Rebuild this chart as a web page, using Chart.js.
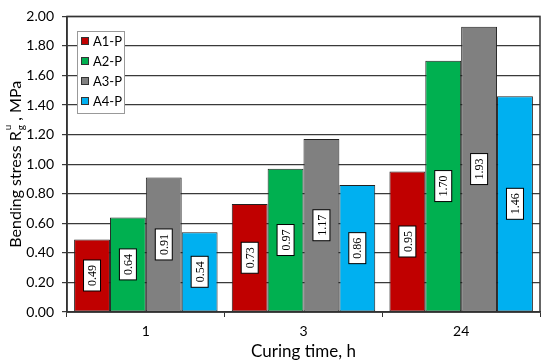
<!DOCTYPE html>
<html>
<head>
<meta charset="utf-8">
<script src="https://cdn.jsdelivr.net/npm/chart.js@4"></script>
<style>
  html, body { margin: 0; padding: 0; background: #fff; }
  #wrap { width: 550px; height: 362px; }
</style>
</head>
<body>
<div id="wrap"><canvas id="chart"></canvas></div>
<script>
const categories = ['1', '3', '24'];
const seriesNames = ['A1-P', 'A2-P', 'A3-P', 'A4-P'];
const a1p = [0.49, 0.73, 0.95];
const a2p = [0.64, 0.97, 1.70];
const a3p = [0.91, 1.17, 1.93];
const a4p = [0.54, 0.86, 1.46];
const colours = ['#C00000', '#00B050', '#808080', '#00B0F0'];

const seriesValues = [a1p, a2p, a3p, a4p];
const sansFont = 'Lato, "Open Sans", sans-serif';

// value boxes, rotated, in the middle of each bar
const barLabels = {
  id: 'barLabels',
  afterDatasetsDraw(chart) {
    const ctx = chart.ctx;
    ctx.save();
    ctx.font = '12px "Liberation Serif", "Times New Roman", serif';
    ctx.textAlign = 'center';
    ctx.textBaseline = 'middle';
    chart.data.datasets.forEach(function (ds, i) {
      const meta = chart.getDatasetMeta(i);
      meta.data.forEach(function (bar, j) {
        const txt = ds.data[j].toFixed(2);
        const cy = (bar.y + bar.base) / 2;
        const w = ctx.measureText(txt).width + 10;
        const h = 17;
        ctx.save();
        ctx.translate(bar.x, cy);
        ctx.rotate(-Math.PI / 2);
        ctx.fillStyle = '#fff';
        ctx.fillRect(-w / 2, -h / 2, w, h);
        ctx.strokeStyle = '#000';
        ctx.lineWidth = 1;
        ctx.strokeRect(-w / 2, -h / 2, w, h);
        ctx.fillStyle = '#000';
        ctx.fillText(txt, 0, 1);
        ctx.restore();
      });
    });
    ctx.restore();
  }
};

// plot frame, legend box and y axis title with sub/superscript
const extras = {
  id: 'extras',
  afterDraw(chart) {
    const ctx = chart.ctx;
    const a = chart.chartArea;
    ctx.save();
    ctx.strokeStyle = '#333';
    ctx.lineWidth = 1.5;
    ctx.strokeRect(a.left, a.top, a.right - a.left, a.bottom - a.top);

    // legend
    const lx = 77, ly = 31, lw = 47, lh = 82;
    ctx.fillStyle = '#fff';
    ctx.fillRect(lx, ly, lw, lh);
    ctx.strokeStyle = '#999';
    ctx.lineWidth = 1;
    ctx.strokeRect(lx + 0.5, ly + 0.5, lw, lh);
    ctx.font = '13px ' + sansFont;
    ctx.textBaseline = 'middle';
    ctx.textAlign = 'left';
    chart.data.datasets.forEach(function (ds, i) {
      const y = ly + 10 + i * 20;
      ctx.fillStyle = ds.backgroundColor;
      ctx.fillRect(lx + 4, y - 4, 8, 8);
      ctx.strokeStyle = '#333';
      ctx.strokeRect(lx + 4.5, y - 3.5, 7, 7);
      ctx.fillStyle = '#000';
      ctx.fillText(ds.label, lx + 16, y + 1);
    });

    // y title
    const big = '16px ' + sansFont;
    const small = '10px ' + sansFont;
    const p1 = 'Bending stress R', p2 = ' , MPa';
    ctx.font = big;
    const w1 = ctx.measureText(p1).width, w3 = ctx.measureText(p2).width;
    ctx.font = small;
    const w2 = Math.max(ctx.measureText('g').width, ctx.measureText('u').width) + 1;
    const total = w1 + w2 + w3;
    ctx.translate(15, (a.top + a.bottom) / 2);
    ctx.rotate(-Math.PI / 2);
    ctx.fillStyle = '#000';
    ctx.textBaseline = 'alphabetic';
    let x = -total / 2;
    ctx.font = big;
    ctx.fillText(p1, x, 6);
    x += w1;
    ctx.font = small;
    ctx.fillText('g', x + 1, 9);
    ctx.fillText('u', x + 1, -4);
    x += w2;
    ctx.font = big;
    ctx.fillText(p2, x, 6);
    ctx.restore();
  }
};

new Chart(document.getElementById('chart'), {
  type: 'bar',
  data: {
    labels: categories,
    datasets: seriesNames.map(function (name, i) {
      return {
        label: name,
        data: seriesValues[i],
        backgroundColor: colours[i],
        borderColor: '#222',
        borderWidth: 1,
        borderSkipped: false,
        categoryPercentage: 0.91,
        barPercentage: 1.0
      };
    })
  },
  options: {
    responsive: true,
    maintainAspectRatio: false,
    animation: false,
    layout: { padding: { top: 11, right: 10, left: 0, bottom: 0 } },
    plugins: {
      legend: { display: false },
      tooltip: { enabled: false }
    },
    scales: {
      x: {
        grid: { offset: true, drawOnChartArea: false, drawTicks: true, tickLength: 5, color: '#333' },
        border: { color: '#333', width: 1.5 },
        ticks: { color: '#000', font: { family: sansFont, size: 14 }, padding: 6 },
        title: { display: true, text: 'Curing time, h', color: '#000', font: { family: sansFont, size: 17 }, padding: { top: 0, bottom: 0 } },
        afterFit(scale) { scale.height = 50; }
      },
      y: {
        min: 0,
        max: 2,
        ticks: {
          stepSize: 0.2,
          color: '#000',
          font: { family: sansFont, size: 14 },
          padding: 8,
          callback: function (v) { return Number(v).toFixed(2); }
        },
        grid: { color: '#3a3a3a', lineWidth: 1.2, tickLength: 5 },
        border: { color: '#333', width: 1.5 },
        afterFit(scale) { scale.width = 67; }
      }
    }
  },
  plugins: [barLabels, extras]
});
</script>
</body>
</html>
